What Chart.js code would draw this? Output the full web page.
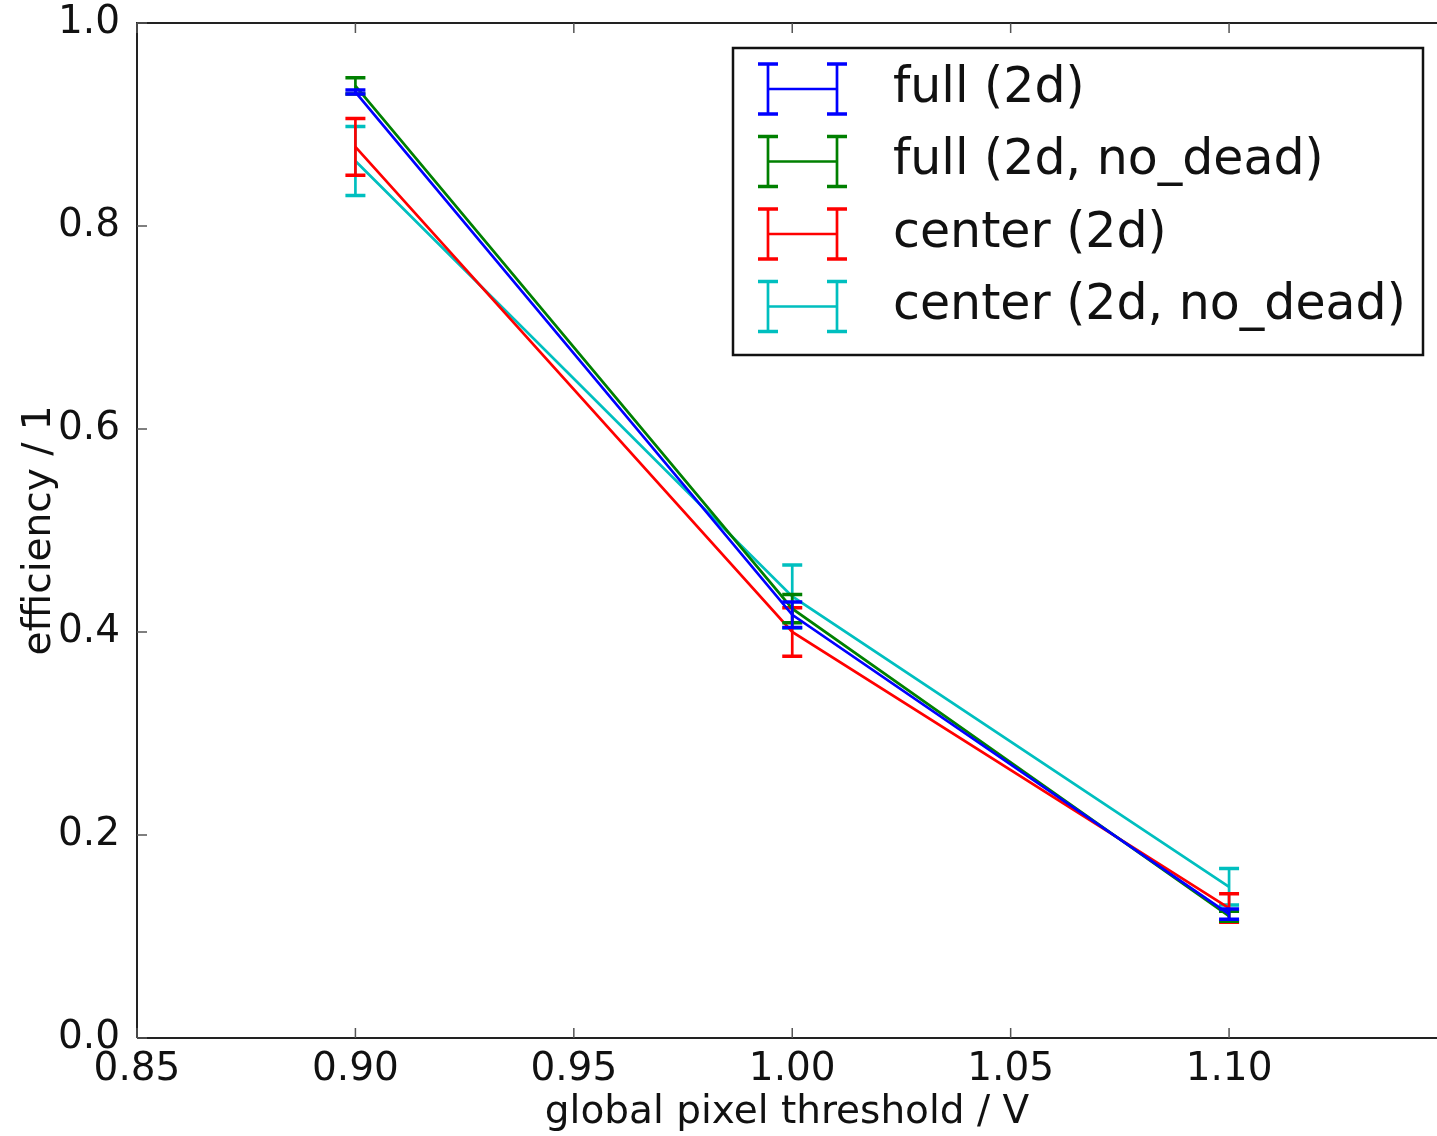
<!DOCTYPE html>
<html>
<head>
<meta charset="utf-8">
<script src="https://cdn.jsdelivr.net/npm/chart.js@4.4.0/dist/chart.umd.min.js"></script>
<style>
  html, body { margin: 0; padding: 0; background: #fff; overflow: hidden; }
  #chart { display: block; }
</style>
</head>
<body>
<canvas id="chart" width="1437" height="1136"></canvas>
<script>
const thresholds = [0.90, 1.00, 1.10];

const fullVals = [0.932, 0.417, 0.122];
const fullErr = [0.002, 0.0125, 0.005];
const fullNoDeadVals = [0.938, 0.423, 0.120];
const fullNoDeadErr = [0.008, 0.014, 0.005];
const centerVals = [0.878, 0.400, 0.128];
const centerErr = [0.028, 0.024, 0.014];
const centerNoDeadVals = [0.864, 0.435, 0.149];
const centerNoDeadErr = [0.034, 0.031, 0.018];

const xTicks = [0.85, 0.90, 0.95, 1.00, 1.05, 1.10];
const yTicks = [0.0, 0.2, 0.4, 0.6, 0.8, 1.0];

const FONT = "'DejaVu Sans', sans-serif";

function series(label, color, vals, errs) {
  return {
    label: label,
    data: thresholds.map((x, i) => ({ x: x, y: vals[i] })),
    errors: errs,
    borderColor: color,
    backgroundColor: color,
    borderWidth: 2.7,
    pointRadius: 0,
    fill: false,
    tension: 0,
  };
}

// error bars drawn right after each dataset so the stacking order matches
const errorBars = {
  id: "errorBars",
  afterDatasetDraw(chart, args) {
    const ds = chart.data.datasets[args.index];
    const { ctx, scales } = chart;
    ctx.save();
    ctx.strokeStyle = ds.borderColor;
    ds.data.forEach((p, i) => {
      const x = scales.x.getPixelForValue(p.x);
      const y1 = scales.y.getPixelForValue(p.y - ds.errors[i]);
      const y2 = scales.y.getPixelForValue(p.y + ds.errors[i]);
      ctx.lineWidth = 2.7;
      ctx.beginPath();
      ctx.moveTo(x, y1);
      ctx.lineTo(x, y2);
      ctx.stroke();
      ctx.lineWidth = 3.5;
      ctx.beginPath();
      ctx.moveTo(x - 10, y1);
      ctx.lineTo(x + 10, y1);
      ctx.moveTo(x - 10, y2);
      ctx.lineTo(x + 10, y2);
      ctx.stroke();
    });
    ctx.restore();
  },
};

// matplotlib style frame with inward ticks
const frame = {
  id: "frame",
  afterDraw(chart) {
    const { ctx, chartArea: a, scales } = chart;
    ctx.save();
    ctx.strokeStyle = "#222";
    ctx.lineWidth = 2;
    ctx.beginPath();
    ctx.moveTo(a.left, a.bottom);
    ctx.lineTo(a.left, a.top);
    ctx.lineTo(a.right + 2, a.top);
    ctx.moveTo(a.left, a.bottom);
    ctx.lineTo(a.right + 2, a.bottom);
    ctx.stroke();
    ctx.lineWidth = 1.5;
    ctx.strokeStyle = "#555";
    ctx.beginPath();
    xTicks.forEach((v) => {
      const x = scales.x.getPixelForValue(v);
      ctx.moveTo(x, a.bottom);
      ctx.lineTo(x, a.bottom - 10);
      ctx.moveTo(x, a.top);
      ctx.lineTo(x, a.top + 10);
    });
    yTicks.forEach((v) => {
      const y = scales.y.getPixelForValue(v);
      ctx.moveTo(a.left, y);
      ctx.lineTo(a.left + 10, y);
    });
    ctx.stroke();
    ctx.restore();
  },
};

const legendBox = {
  id: "legendBox",
  afterDraw(chart) {
    const ctx = chart.ctx;
    const left = 733, top = 48, right = 1423, bottom = 355;
    ctx.save();
    ctx.fillStyle = "#fff";
    ctx.fillRect(left, top, right - left, bottom - top);
    ctx.strokeStyle = "#111";
    ctx.lineWidth = 2.5;
    ctx.strokeRect(left, top, right - left, bottom - top);
    chart.data.datasets.forEach((ds, i) => {
      const y = 89 + i * 72.5;
      const x1 = 768, x2 = 837;
      ctx.strokeStyle = ds.borderColor;
      ctx.lineWidth = 2.7;
      ctx.beginPath();
      ctx.moveTo(x1, y);
      ctx.lineTo(x2, y);
      ctx.moveTo(x1, y - 25);
      ctx.lineTo(x1, y + 25);
      ctx.moveTo(x2, y - 25);
      ctx.lineTo(x2, y + 25);
      ctx.stroke();
      ctx.lineWidth = 3.5;
      ctx.beginPath();
      [x1, x2].forEach((x) => {
        ctx.moveTo(x - 10, y - 25);
        ctx.lineTo(x + 10, y - 25);
        ctx.moveTo(x - 10, y + 25);
        ctx.lineTo(x + 10, y + 25);
      });
      ctx.stroke();
      ctx.fillStyle = "#111";
      ctx.font = "49px " + FONT;
      ctx.textBaseline = "middle";
      ctx.textAlign = "left";
      ctx.fillText(ds.label, 893, y);
    });
    ctx.restore();
  },
};

const ctx = document.getElementById("chart").getContext("2d");
new Chart(ctx, {
  type: "line",
  data: {
    datasets: [
      series("full (2d)", "#0000ff", fullVals, fullErr),
      series("full (2d, no_dead)", "#008000", fullNoDeadVals, fullNoDeadErr),
      series("center (2d)", "#ff0000", centerVals, centerErr),
      series("center (2d, no_dead)", "#00bfbf", centerNoDeadVals, centerNoDeadErr),
    ],
  },
  options: {
    responsive: false,
    animation: false,
    devicePixelRatio: 1,
    layout: { padding: { top: 23, right: 0, left: 0, bottom: 0 } },
    plugins: {
      legend: { display: false },
      tooltip: { enabled: false },
    },
    scales: {
      x: {
        type: "linear",
        min: 0.85,
        max: 1.1476,
        afterBuildTicks: (s) => { s.ticks = xTicks.map((v) => ({ value: v })); },
        afterFit: (s) => {
          s.height = 1136 - 1038;
          s.paddingLeft = 0;
          s.paddingRight = 0;
        },
        grid: { display: false },
        border: { display: false },
        ticks: {
          color: "#111",
          font: { family: FONT, size: 39 },
          padding: 0,
          maxRotation: 0,
          autoSkip: false,
          callback: (v) => v.toFixed(2),
        },
        title: {
          display: true,
          text: "global pixel threshold / V",
          color: "#111",
          font: { family: FONT, size: 39 },
          padding: { top: 0, bottom: 0 },
        },
      },
      y: {
        min: 0,
        max: 1,
        afterBuildTicks: (s) => { s.ticks = yTicks.map((v) => ({ value: v })); },
        afterFit: (s) => {
          s.width = 137;
          s.paddingTop = 0;
          s.paddingBottom = 0;
        },
        grid: { display: false },
        border: { display: false },
        ticks: {
          color: "#111",
          font: { family: FONT, size: 39 },
          padding: 9,
          autoSkip: false,
          callback: (v) => v.toFixed(1),
        },
        title: {
          display: true,
          text: "efficiency / 1",
          color: "#111",
          font: { family: FONT, size: 39 },
          padding: { top: 16, bottom: 0 },
        },
      },
    },
  },
  plugins: [errorBars, frame, legendBox],
});
</script>
</body>
</html>
